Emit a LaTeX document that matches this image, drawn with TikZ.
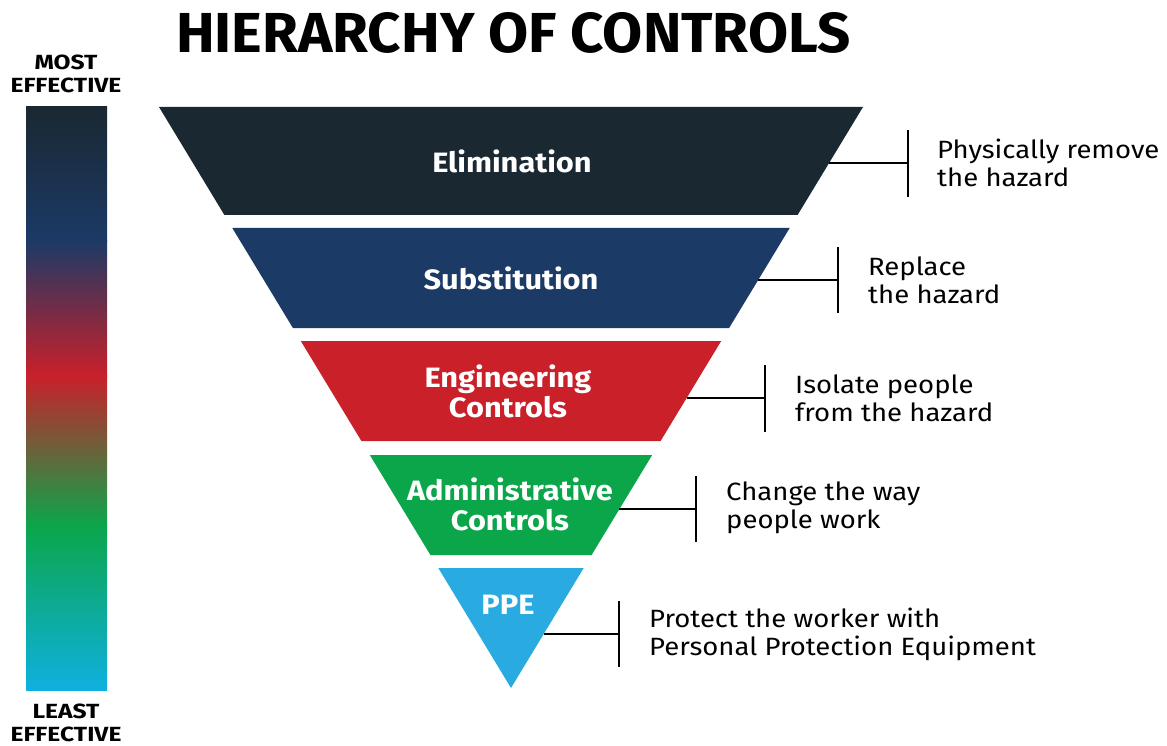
\documentclass[tikz,border=0pt]{standalone}
\usepackage{fontspec}
\setmainfont{Fira Sans}
\newfontfamily\wideff[FakeStretch=1.1]{Fira Sans}
\newfontfamily\wideend[FakeStretch=1.2]{Fira Sans}
\usetikzlibrary{calc}
\definecolor{cElim}{HTML}{1A2832}
\definecolor{cSubs}{HTML}{1B3A66}
\definecolor{cEng}{HTML}{C9202A}
\definecolor{cAdm}{HTML}{0BA64A}
\definecolor{cPPE}{HTML}{29ABE2}
\definecolor{cBlue}{HTML}{0FB0E0}
\tikzset{
  bandlabel/.style={text=white, font=\wideff\fontsize{28}{30}\selectfont\bfseries, align=center},
  desc/.style={anchor=west, align=left, font=\wideff\fontsize{25}{28}\selectfont, inner sep=0pt},
  conn/.style={line width=1.3pt, black},
  endlabel/.style={font=\wideend\fontsize{20.5}{23}\selectfont\bfseries, align=center, inner sep=0pt}
}
\begin{document}
\begin{tikzpicture}[x=1pt,y=-1pt]
\useasboundingbox (0,0) rectangle (1167,746);
% title
\node[anchor=north west, inner sep=0pt] (title) at (176,12) {\resizebox{674pt}{40pt}{\bfseries HIERARCHY OF CONTROLS}};
% gradient bar
\shade[top color=cElim, bottom color=cSubs] (26,107) rectangle (107,241);
\shade[top color=cSubs, bottom color=cEng] (26,240) rectangle (107,376);
\shade[top color=cEng, bottom color=cAdm] (26,375) rectangle (107,526);
\shade[top color=cAdm, bottom color=cBlue] (26,525) rectangle (107,690);
\node[endlabel] (most) at (66,74) {MOST\\EFFECTIVE};
\node[endlabel] (least) at (66,723) {LEAST\\EFFECTIVE};
% bands
\fill[cElim] (159,107) -- (863,107) -- (797.6,215) -- (224.4,215) -- cycle;
\fill[cSubs] (232.3,228) -- (789.7,228) -- (729.1,328) -- (292.9,328) -- cycle;
\fill[cEng] (300.8,341) -- (721.2,341) -- (660.6,441) -- (361.4,441) -- cycle;
\fill[cAdm] (369.8,455) -- (652.2,455) -- (591.6,555) -- (430.4,555) -- cycle;
\fill[cPPE] (438.3,568) -- (583.7,568) -- (511,688) -- cycle;
\node[bandlabel] (elim) at (512,161) {Elimination};
\node[bandlabel] (subs) at (511,278) {Substitution};
\node[bandlabel] (eng) at (508,391) {Engineering\\Controls};
\node[bandlabel] (adm) at (510,504) {Administrative\\Controls};
\node[bandlabel] (ppe) at (508,605) {PPE};
% connectors
\coordinate (e1) at (829,163); \coordinate (e2) at (908,163);
\coordinate (s1) at (758,280); \coordinate (s2) at (838,280);
\coordinate (g1) at (687,398); \coordinate (g2) at (765,398);
\coordinate (a1) at (619,509); \coordinate (a2) at (696,509);
\coordinate (p1) at (544,634); \coordinate (p2) at (619,634);
\draw[conn] (e1) -- (e2); \draw[conn] ($(e2)+(0,-33)$) -- ($(e2)+(0,34)$);
\draw[conn] (s1) -- (s2); \draw[conn] ($(s2)+(0,-33)$) -- ($(s2)+(0,33)$);
\draw[conn] (g1) -- (g2); \draw[conn] ($(g2)+(0,-33)$) -- ($(g2)+(0,34)$);
\draw[conn] (a1) -- (a2); \draw[conn] ($(a2)+(0,-33)$) -- ($(a2)+(0,33)$);
\draw[conn] (p1) -- (p2); \draw[conn] ($(p2)+(0,-33)$) -- ($(p2)+(0,33)$);
% descriptions
\node[desc] (de) at (937,163) {Physically remove\\the hazard};
\node[desc] (ds) at (868,280) {Replace\\the hazard};
\node[desc] (dg) at (795,398) {Isolate people\\from the hazard};
\node[desc] (da) at (726,508) {Change the way\\people work};
\node[desc] (dp) at (649,634) {Protect the worker with\\Personal Protection Equipment};
\end{tikzpicture}
\end{document}
